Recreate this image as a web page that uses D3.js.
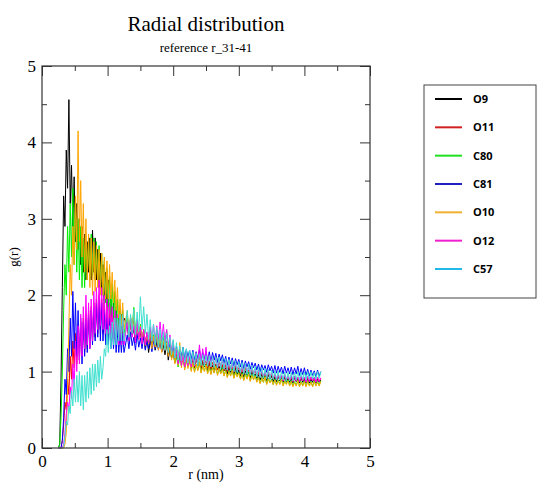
<!DOCTYPE html>
<html>
<head>
<meta charset="utf-8">
<script src="https://cdn.jsdelivr.net/npm/d3@7"></script>
<style>
  body { margin: 0; background: #fff; }
</style>
</head>
<body>
<div id="chart"></div>
<script>
// r grid: fine part 0.25..1.25 step 0.02, tail part 1.30..4.25 step 0.025
const rFine = d3.range(51).map(i => 0.25 + i * 0.02);
const rTail = d3.range(119).map(i => 1.30 + i * 0.025);

const seriesNames = ['O9', 'O11', 'C80', 'C81', 'O10', 'O12', 'C57'];
const seriesColors = ['#000000', '#ff0000', '#00ee00', '#0000ff', '#ffa500', '#ff00ff', '#40e0d0'];
const legendColors = ['#000000', '#d02020', '#20e020', '#2020c0', '#f0b030', '#f020d0', '#20b8e8'];

// g(r) for r in rFine
const fineO9 = [
  0, 0.05, 0.9, 2.1, 3.3, 2.9, 3.9, 3.4, 4.56, 3.2, 3.7, 2.9, 3.55, 2.7, 3.2, 2.6, 3.0, 2.4, 2.9, 2.3,
  2.8, 2.2, 2.7, 2.3, 2.75, 2.2, 2.85, 2.3, 2.75, 2.2, 2.6, 2.1, 2.55, 2.0, 2.4, 1.8, 2.3, 1.7, 2.2, 1.6,
  2.0, 1.55, 1.9, 1.5, 1.85, 1.45, 1.8, 1.4, 1.75, 1.45, 1.7
];
const fineO11 = [
  0, 0, 0, 0.1, 0.3, 0.6, 0.5, 0.9, 0.7, 1.2, 0.9, 1.4, 1.05, 1.5, 1.1, 1.6, 1.15, 1.65, 1.2, 1.7,
  1.25, 1.75, 1.3, 1.8, 1.35, 1.85, 1.4, 1.9, 1.45, 1.95, 1.5, 2.0, 1.55, 1.95, 1.5, 1.9, 1.45, 1.85, 1.45, 1.8,
  1.4, 1.75, 1.4, 1.75, 1.4, 1.7, 1.4, 1.7, 1.4, 1.7, 1.45
];
const fineC80 = [
  0, 0.05, 0.4, 1.0, 1.8, 2.4, 2.0, 2.9, 2.3, 3.2, 2.5, 3.4, 2.4, 3.2, 2.3, 3.0, 2.2, 2.9, 2.1, 2.75,
  2.1, 2.7, 2.2, 2.75, 2.2, 2.8, 2.25, 2.75, 2.2, 2.7, 2.15, 2.65, 2.1, 2.55, 2.0, 2.45, 1.9, 2.35, 1.85, 2.25,
  1.75, 2.15, 1.7, 2.05, 1.6, 1.95, 1.55, 1.85, 1.5, 1.8, 1.5
];
const fineC81 = [
  0, 0, 0, 0.1, 0.4, 0.9, 0.7, 1.3, 1.0, 1.7, 1.2, 2.05, 1.3, 1.9, 1.2, 1.8, 1.15, 1.7, 1.1, 1.65,
  1.2, 1.7, 1.25, 1.75, 1.3, 1.8, 1.35, 1.85, 1.4, 1.9, 1.45, 1.95, 1.4, 1.9, 1.4, 1.8, 1.35, 1.75, 1.35, 1.7,
  1.3, 1.65, 1.3, 1.6, 1.25, 1.55, 1.25, 1.5, 1.25, 1.5, 1.25
];
const fineO10 = [
  0, 0, 0, 0, 0, 0.05, 0.2, 0.8, 1.6, 2.4, 2.0, 2.9, 2.4, 3.3, 2.6, 4.15, 2.7, 3.5, 2.5, 3.2,
  2.3, 3.0, 2.2, 2.8, 2.1, 2.75, 2.0, 2.7, 2.05, 2.65, 2.1, 2.6, 2.0, 2.55, 2.0, 2.5, 1.95, 2.45, 1.95, 2.4,
  1.95, 2.3, 1.9, 2.2, 1.8, 2.1, 1.7, 1.95, 1.6, 1.9, 1.55
];
const fineO12 = [
  0, 0, 0, 0, 0.05, 0.2, 0.45, 0.6, 0.5, 0.8, 0.65, 1.1, 0.8, 1.4, 1.0, 1.6, 1.1, 1.75, 1.2, 1.85,
  1.3, 2.0, 1.35, 1.9, 1.3, 1.95, 1.4, 2.05, 1.5, 2.1, 1.55, 2.2, 1.6, 2.1, 1.55, 2.0, 1.5, 1.95, 1.5, 1.9,
  1.45, 1.85, 1.4, 1.8, 1.4, 1.75, 1.35, 1.7, 1.35, 1.7, 1.35
];
const fineC57 = [
  0, 0, 0, 0, 0.02, 0.15, 0.35, 0.3, 0.55, 0.45, 0.75, 0.55, 0.9, 0.6, 0.95, 0.6, 1.0, 0.55, 0.95, 0.5,
  0.95, 0.6, 1.0, 0.65, 1.05, 0.7, 1.1, 0.75, 1.1, 0.8, 1.15, 0.85, 1.2, 0.9, 1.05, 1.3, 1.2, 1.55, 1.25, 1.6,
  1.3, 1.65, 1.35, 1.7, 1.35, 1.7, 1.4, 1.75, 1.4, 1.75, 1.4
];

// g(r) for r in rTail (one row = 0.25 nm)
const tailO9 = [
  1.62, 1.40, 1.70, 1.48, 1.55, 1.38, 1.66, 1.45, 1.52, 1.36,
  1.50, 1.30, 1.45, 1.25, 1.40, 1.32, 1.48, 1.28, 1.38, 1.30,
  1.42, 1.26, 1.35, 1.22, 1.38, 1.15, 1.30, 1.18, 1.25, 1.12,
  1.22, 1.10, 1.26, 1.12, 1.18, 1.06, 1.20, 1.10, 1.16, 1.05,
  1.15, 1.05, 1.18, 1.08, 1.12, 1.02, 1.14, 1.06, 1.10, 1.01,
  1.12, 1.02, 1.08, 0.99, 1.10, 1.03, 1.07, 0.98, 1.09, 1.01,
  1.05, 0.97, 1.06, 0.99, 1.03, 0.95, 1.05, 0.97, 1.02, 0.94,
  1.00, 0.93, 1.01, 0.95, 0.99, 0.92, 1.00, 0.94, 0.97, 0.91,
  0.96, 0.89, 0.97, 0.91, 0.95, 0.88, 0.96, 0.90, 0.94, 0.87,
  0.93, 0.87, 0.94, 0.88, 0.92, 0.86, 0.93, 0.87, 0.91, 0.86,
  0.91, 0.85, 0.92, 0.87, 0.90, 0.85, 0.92, 0.86, 0.90, 0.85,
  0.91, 0.85, 0.90, 0.86, 0.92, 0.85, 0.90, 0.86, 0.89
];
const tailO11 = [
  1.68, 1.45, 1.62, 1.50, 1.72, 1.42, 1.60, 1.48, 1.56, 1.40,
  1.55, 1.38, 1.50, 1.42, 1.56, 1.36, 1.48, 1.40, 1.52, 1.35,
  1.48, 1.32, 1.45, 1.36, 1.40, 1.28, 1.42, 1.25, 1.35, 1.20,
  1.25, 1.12, 1.22, 1.15, 1.26, 1.10, 1.20, 1.13, 1.18, 1.08,
  1.18, 1.08, 1.16, 1.10, 1.20, 1.06, 1.15, 1.09, 1.14, 1.05,
  1.14, 1.04, 1.12, 1.06, 1.10, 1.02, 1.13, 1.05, 1.09, 1.01,
  1.09, 1.00, 1.08, 1.02, 1.06, 0.99, 1.07, 1.01, 1.05, 0.97,
  1.04, 0.97, 1.05, 0.98, 1.02, 0.95, 1.03, 0.97, 1.01, 0.94,
  0.99, 0.92, 1.00, 0.93, 0.98, 0.91, 0.99, 0.92, 0.96, 0.90,
  0.96, 0.89, 0.95, 0.90, 0.94, 0.88, 0.95, 0.89, 0.93, 0.88,
  0.93, 0.87, 0.94, 0.88, 0.92, 0.87, 0.93, 0.88, 0.92, 0.86,
  0.92, 0.87, 0.93, 0.88, 0.91, 0.86, 0.92, 0.87, 0.91
];
const tailC80 = [
  1.75, 1.50, 1.70, 1.55, 1.84, 1.52, 1.68, 1.45, 1.62, 1.40,
  1.55, 1.36, 1.50, 1.40, 1.58, 1.34, 1.48, 1.38, 1.52, 1.32,
  1.50, 1.30, 1.46, 1.34, 1.55, 1.28, 1.40, 1.20, 1.32, 1.12,
  1.20, 1.06, 1.18, 1.08, 1.22, 1.04, 1.15, 1.06, 1.14, 1.02,
  1.12, 1.00, 1.10, 1.02, 1.13, 0.99, 1.08, 1.01, 1.09, 0.98,
  1.07, 0.97, 1.06, 0.99, 1.08, 0.96, 1.04, 0.98, 1.05, 0.95,
  1.02, 0.93, 1.01, 0.95, 1.03, 0.92, 1.00, 0.94, 0.99, 0.91,
  0.98, 0.89, 0.97, 0.91, 0.99, 0.88, 0.96, 0.90, 0.95, 0.87,
  0.93, 0.85, 0.92, 0.86, 0.94, 0.84, 0.91, 0.86, 0.90, 0.83,
  0.90, 0.83, 0.89, 0.84, 0.91, 0.82, 0.88, 0.84, 0.89, 0.82,
  0.88, 0.81, 0.87, 0.82, 0.89, 0.81, 0.87, 0.82, 0.88, 0.81,
  0.88, 0.82, 0.87, 0.81, 0.88, 0.82, 0.87, 0.82, 0.88
];
const tailC81 = [
  1.48, 1.30, 1.52, 1.34, 1.45, 1.28, 1.50, 1.32, 1.44, 1.30,
  1.46, 1.28, 1.42, 1.30, 1.46, 1.26, 1.40, 1.30, 1.44, 1.28,
  1.42, 1.26, 1.40, 1.28, 1.38, 1.24, 1.36, 1.22, 1.34, 1.20,
  1.33, 1.18, 1.30, 1.20, 1.32, 1.17, 1.29, 1.19, 1.28, 1.16,
  1.28, 1.15, 1.26, 1.17, 1.29, 1.14, 1.25, 1.16, 1.27, 1.14,
  1.26, 1.13, 1.25, 1.15, 1.24, 1.12, 1.23, 1.14, 1.22, 1.11,
  1.20, 1.08, 1.19, 1.10, 1.18, 1.07, 1.17, 1.09, 1.16, 1.06,
  1.15, 1.04, 1.14, 1.06, 1.13, 1.03, 1.12, 1.05, 1.11, 1.02,
  1.10, 1.00, 1.09, 1.02, 1.08, 0.99, 1.09, 1.01, 1.07, 0.98,
  1.08, 0.98, 1.07, 0.99, 1.06, 0.97, 1.07, 0.98, 1.05, 0.97,
  1.06, 0.96, 1.05, 0.97, 1.07, 0.95, 1.04, 0.96, 1.05, 0.95,
  1.03, 0.94, 1.02, 0.95, 1.01, 0.93, 1.02, 0.94, 1.00
];
const tailO10 = [
  1.80, 1.50, 1.72, 1.55, 1.80, 1.46, 1.65, 1.42, 1.60, 1.38,
  1.55, 1.34, 1.50, 1.36, 1.52, 1.30, 1.46, 1.32, 1.48, 1.28,
  1.45, 1.25, 1.40, 1.28, 1.38, 1.20, 1.32, 1.15, 1.28, 1.10,
  1.30, 1.08, 1.38, 1.05, 1.22, 1.02, 1.18, 1.04, 1.16, 1.00,
  1.12, 0.99, 1.10, 1.01, 1.12, 0.98, 1.08, 1.00, 1.09, 0.97,
  1.07, 0.96, 1.06, 0.98, 1.07, 0.95, 1.04, 0.97, 1.03, 0.94,
  1.01, 0.92, 1.00, 0.94, 1.02, 0.91, 0.99, 0.93, 0.98, 0.90,
  0.97, 0.88, 0.96, 0.90, 0.97, 0.87, 0.95, 0.89, 0.94, 0.86,
  0.92, 0.84, 0.91, 0.86, 0.93, 0.83, 0.90, 0.85, 0.89, 0.83,
  0.89, 0.82, 0.88, 0.83, 0.90, 0.81, 0.87, 0.83, 0.88, 0.81,
  0.87, 0.80, 0.86, 0.81, 0.88, 0.80, 0.86, 0.81, 0.87, 0.80,
  0.87, 0.81, 0.86, 0.80, 0.87, 0.81, 0.86, 0.81, 0.87
];
const tailO12 = [
  1.65, 1.40, 1.70, 1.45, 1.60, 1.38, 1.68, 1.42, 1.58, 1.36,
  1.55, 1.35, 1.52, 1.38, 1.58, 1.40, 1.62, 1.38, 1.60, 1.42,
  1.65, 1.40, 1.62, 1.38, 1.55, 1.32, 1.48, 1.25, 1.40, 1.18,
  1.28, 1.10, 1.25, 1.08, 1.22, 1.06, 1.24, 1.08, 1.20, 1.06,
  1.22, 1.07, 1.25, 1.10, 1.35, 1.12, 1.30, 1.10, 1.32, 1.08,
  1.22, 1.07, 1.20, 1.08, 1.18, 1.05, 1.17, 1.06, 1.15, 1.04,
  1.14, 1.02, 1.13, 1.03, 1.11, 1.00, 1.12, 1.02, 1.10, 0.99,
  1.09, 0.98, 1.10, 0.99, 1.06, 0.96, 1.07, 0.98, 1.04, 0.95,
  1.02, 0.93, 1.01, 0.94, 1.00, 0.92, 1.01, 0.93, 0.98, 0.91,
  0.97, 0.89, 0.96, 0.90, 0.95, 0.88, 0.96, 0.89, 0.94, 0.88,
  0.95, 0.87, 0.94, 0.88, 0.93, 0.87, 0.94, 0.88, 0.93, 0.86,
  0.94, 0.87, 0.93, 0.88, 0.92, 0.86, 0.93, 0.87, 0.92
];
const tailC57 = [
  1.80, 1.45, 1.75, 1.50, 1.82, 1.48, 1.78, 1.52, 1.98, 1.55,
  1.85, 1.50, 1.75, 1.42, 1.68, 1.40, 1.62, 1.35, 1.58, 1.32,
  1.55, 1.30, 1.52, 1.28, 1.50, 1.25, 1.45, 1.22, 1.42, 1.18,
  1.38, 1.15, 1.34, 1.14, 1.32, 1.12, 1.30, 1.11, 1.28, 1.10,
  1.26, 1.09, 1.24, 1.08, 1.23, 1.08, 1.22, 1.07, 1.21, 1.07,
  1.21, 1.06, 1.20, 1.06, 1.19, 1.05, 1.19, 1.04, 1.18, 1.03,
  1.17, 1.02, 1.16, 1.01, 1.15, 1.00, 1.14, 0.99, 1.13, 0.98,
  1.12, 0.97, 1.11, 0.96, 1.10, 0.95, 1.08, 0.94, 1.07, 0.93,
  1.06, 0.92, 1.05, 0.92, 1.04, 0.91, 1.03, 0.90, 1.02, 0.90,
  1.01, 0.89, 1.01, 0.89, 1.00, 0.89, 1.00, 0.88, 0.99, 0.88,
  0.99, 0.88, 0.99, 0.89, 1.00, 0.89, 0.99, 0.89, 1.00, 0.89,
  1.00, 0.90, 1.00, 0.90, 0.99, 0.90, 1.00, 0.91, 1.00
];

const fineValues = [fineO9, fineO11, fineC80, fineC81, fineO10, fineO12, fineC57];
const tailValues = [tailO9, tailO11, tailC80, tailC81, tailO10, tailO12, tailC57];

const xTicks = [0, 1, 2, 3, 4, 5];
const yTicks = [0, 1, 2, 3, 4, 5];
const minorTicks = [0.5, 1.5, 2.5, 3.5, 4.5];

const width = 537, height = 483;
const margin = { top: 66, right: 167, bottom: 35, left: 42 };
const plotW = width - margin.left - margin.right;
const plotH = height - margin.top - margin.bottom;
const serif = '"Liberation Serif", "Times New Roman", serif';

const svg = d3.select('#chart').append('svg')
  .attr('width', width)
  .attr('height', height);

const x = d3.scaleLinear().domain([0, 5]).range([0, plotW]);
const y = d3.scaleLinear().domain([0, 5]).range([plotH, 0]);

const chart = svg.append('g')
  .attr('transform', `translate(${margin.left},${margin.top})`);

// Build point lists per series from the r grids
const seriesPoints = fineValues.map((fine, k) =>
  fine.map((g, i) => [rFine[i], g]).concat(tailValues[k].map((g, i) => [rTail[i], g]))
);

const line = d3.line()
  .x(d => x(d[0]))
  .y(d => y(d[1]));

chart.selectAll('.series')
  .data(seriesPoints)
  .join('path')
  .attr('class', 'series')
  .attr('fill', 'none')
  .attr('stroke', (d, i) => seriesColors[i])
  .attr('stroke-width', 1)
  .attr('d', line);

// Axes: inward major/minor ticks on all four sides
function styleAxis(g) {
  g.attr('font-family', null).attr('font-size', null);
  g.select('.domain').remove();
  g.selectAll('.tick line').attr('stroke', '#333');
  g.selectAll('.tick text')
    .attr('fill', '#000')
    .style('font-family', serif)
    .style('font-size', '17px');
}

function addAxis(axis, transform) {
  chart.append('g')
    .attr('transform', transform)
    .call(axis)
    .call(styleAxis);
}

addAxis(d3.axisBottom(x).tickValues(xTicks).tickSize(-10).tickPadding(7).tickFormat(d3.format('d')), `translate(0,${plotH})`);
addAxis(d3.axisBottom(x).tickValues(minorTicks).tickSize(-5).tickFormat(''), `translate(0,${plotH})`);
addAxis(d3.axisTop(x).tickValues(xTicks).tickSize(-10).tickFormat(''), null);
addAxis(d3.axisTop(x).tickValues(minorTicks).tickSize(-5).tickFormat(''), null);
addAxis(d3.axisLeft(y).tickValues(yTicks).tickSize(-10).tickPadding(6).tickFormat(d3.format('d')), null);
addAxis(d3.axisLeft(y).tickValues(minorTicks).tickSize(-5).tickFormat(''), null);
addAxis(d3.axisRight(y).tickValues(yTicks).tickSize(-10).tickFormat(''), `translate(${plotW},0)`);
addAxis(d3.axisRight(y).tickValues(minorTicks).tickSize(-5).tickFormat(''), `translate(${plotW},0)`);

// Frame
chart.append('rect')
  .attr('width', plotW)
  .attr('height', plotH)
  .attr('fill', 'none')
  .attr('stroke', '#333')
  .attr('stroke-width', 1.2);

// Titles
function addText(xPos, yPos, size, txt, transform) {
  const t = svg.append('text')
    .attr('text-anchor', 'middle')
    .style('font-family', serif)
    .style('font-size', size)
    .text(txt);
  if (transform) t.attr('transform', transform);
  else t.attr('x', xPos).attr('y', yPos);
}
addText(margin.left + plotW / 2, 31, '21px', 'Radial distribution');
addText(margin.left + plotW / 2, 52, '13px', 'reference r_31-41');
addText(margin.left + plotW / 2, 479, '14px', 'r (nm)');
addText(0, 0, '13px', 'g(r)', `translate(18,${margin.top + plotH / 2}) rotate(-90)`);

// Legend
const legend = svg.append('g')
  .attr('transform', 'translate(424,85)');
legend.append('rect')
  .attr('width', 112)
  .attr('height', 213)
  .attr('fill', '#fff')
  .attr('stroke', '#444')
  .attr('stroke-width', 1);

const legendY = d3.scalePoint().domain(seriesNames).range([14, 184]);
const items = legend.selectAll('.legend-item')
  .data(seriesNames)
  .join('g')
  .attr('class', 'legend-item')
  .attr('transform', d => `translate(0,${legendY(d)})`);
items.append('line')
  .attr('x1', 11).attr('x2', 38)
  .attr('stroke', (d, i) => legendColors[i])
  .attr('stroke-width', 2);
items.append('text')
  .attr('x', 49)
  .attr('dy', '0.36em')
  .style('font-family', '"Open Sans", "DejaVu Sans", sans-serif')
  .style('font-weight', 'bold')
  .style('font-size', '11px')
  .text(d => d);
</script>
</body>
</html>
